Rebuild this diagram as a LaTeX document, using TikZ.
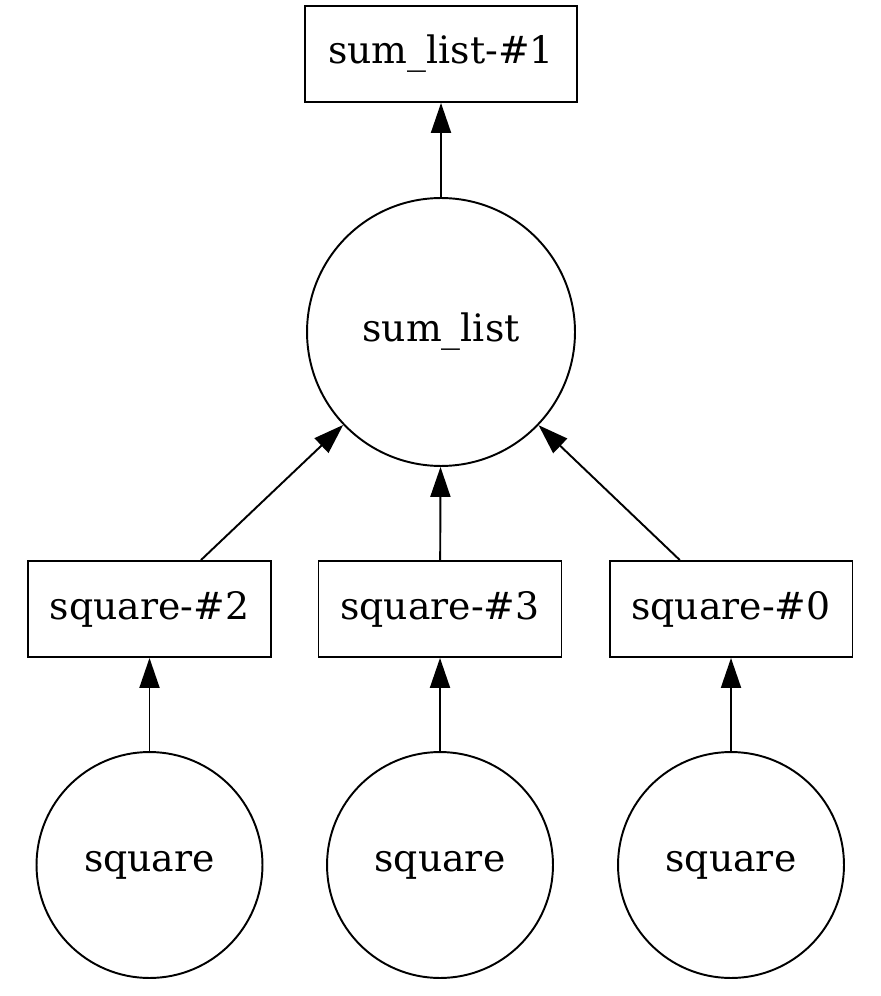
\documentclass[tikz,border=0pt]{standalone}
\usepackage{fontspec}
\setmainfont{DejaVu Serif}
\usepackage{tikz}
\usetikzlibrary{arrows.meta}

\begin{document}
\begin{tikzpicture}[x=0.02cm, y=-0.02cm,
    every node/.style={font=\fontsize{21.5}{26}\selectfont},
    taskbox/.style={draw, line width=1.1pt, minimum height=1.92cm, inner sep=0pt},
    taskcirc/.style={draw, circle, line width=1.1pt, inner sep=0pt},
    dep/.style={line width=1.1pt, -{Triangle[length=0.6cm, width=0.4cm]}}]
    % Margens
    \useasboundingbox (0,0) rectangle (880,996);

    % Resultado final
    \node[taskbox, minimum width=5.44cm] (res) at (441,54) {sum\_list-\#1};
    \node[taskcirc, minimum size=5.36cm] (sum) at (441,332) {sum\_list};

    % Resultados intermediarios
    \node[taskbox, minimum width=4.86cm] (sqb) at (149.5,609) {square-\#2};
    \node[taskbox, minimum width=4.86cm] (sqc) at (440,609) {square-\#3};
    \node[taskbox, minimum width=4.86cm] (sqa) at (731,609) {square-\#0};

    % Tarefas de entrada
    \node[taskcirc, minimum size=4.52cm] (fb) at (149.5,865) {square};
    \node[taskcirc, minimum size=4.52cm] (fc) at (440,865) {square};
    \node[taskcirc, minimum size=4.52cm] (fa) at (731,865) {square};

    % Arestas
    \draw[dep] (sum) -- (res);
    \draw[dep] (sqb) -- (sum);
    \draw[dep] (sqc) -- (sum);
    \draw[dep] (sqa) -- (sum);
    \draw[dep] (fb) -- (sqb);
    \draw[dep] (fc) -- (sqc);
    \draw[dep] (fa) -- (sqa);
\end{tikzpicture}
\end{document}
